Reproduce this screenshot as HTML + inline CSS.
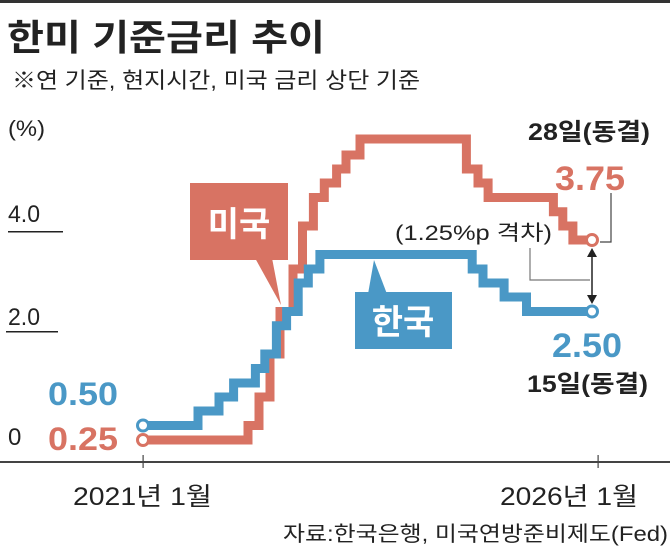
<!DOCTYPE html>
<html><head><meta charset="utf-8"><style>
html,body{margin:0;padding:0;background:#fff;}
svg{display:block;font-family:"Liberation Sans","Noto Sans CJK KR",sans-serif;}
</style></head><body>
<svg width="670" height="549" viewBox="0 0 670 549">
<rect x="0" y="0" width="670" height="3" fill="#333"/>
<text x="7" y="50" font-size="36" font-weight="bold" fill="#222" textLength="318" lengthAdjust="spacingAndGlyphs">한미 기준금리 추이</text>
<text x="12" y="88" font-size="22" fill="#222" textLength="408" lengthAdjust="spacingAndGlyphs">※연 기준, 현지시간, 미국 금리 상단 기준</text>
<text x="8" y="136" font-size="22" fill="#222" textLength="37" lengthAdjust="spacingAndGlyphs">(%)</text>
<text x="8" y="222" font-size="24" fill="#222" textLength="32" lengthAdjust="spacingAndGlyphs">4.0</text>
<rect x="8" y="231" width="55" height="1.5" fill="#222"/>
<text x="8" y="325" font-size="24" fill="#222" textLength="32" lengthAdjust="spacingAndGlyphs">2.0</text>
<rect x="6" y="331" width="52" height="1.5" fill="#222"/>
<text x="8" y="445" font-size="24" fill="#222">0</text>
<rect x="0" y="461" width="670" height="2" fill="#444"/>
<rect x="142.5" y="455" width="1.2" height="13" fill="#444"/>
<rect x="597.5" y="455" width="1.2" height="13" fill="#444"/>
<text x="73" y="505" font-size="25" fill="#222" textLength="139" lengthAdjust="spacingAndGlyphs">2021년 1월</text>
<text x="500" y="505" font-size="25" fill="#222" textLength="138" lengthAdjust="spacingAndGlyphs">2026년 1월</text>
<text x="283" y="541" font-size="21" fill="#222" textLength="385" lengthAdjust="spacingAndGlyphs">자료:한국은행, 미국연방준비제도(Fed)</text>

<polygon points="255,258 272,258 281,305" fill="#d87363"/>
<rect x="190" y="183" width="98" height="77" fill="#d87363"/>
<text x="239" y="236" font-size="34" font-weight="bold" fill="#fff" text-anchor="middle">미국</text>
<polygon points="368,294 387,294 374,260" fill="#4a98c6"/>
<rect x="355" y="292" width="97" height="57" fill="#4a98c6"/>
<text x="403" y="334" font-size="34" font-weight="bold" fill="#fff" text-anchor="middle">한국</text>

<path fill="none" stroke="#d87363" stroke-width="9" d="M143,440 H248 V425.5 H259 V397 H270 V354 H280 V311.5 H293 V269 H302.5 V226 H313.4 V197.5 H324.3 V183 H336.6 V169 H346 V155 H360 V139 H466.4 V169 H478 V183 H488.1 V197.5 H553.4 V211.8 H562.8 V226 H572.9 V240 H592"/>
<path fill="none" stroke="#4a98c6" stroke-width="9" d="M143,425.5 H198 V411 H219 V397 H233.6 V383 H255.4 V368.5 H264.8 V354 H276.4 V325.8 H286.6 V311.5 H298.2 V283 H308.3 V269 H319.9 V254.5 H472.2 V269 H483 V283 H504.1 V297 H526.5 V311.5 H592"/>
<circle cx="143" cy="440" r="5.5" fill="#fff" stroke="#d87363" stroke-width="3"/>
<circle cx="143" cy="425.5" r="5.5" fill="#fff" stroke="#4a98c6" stroke-width="3"/>
<circle cx="592" cy="240" r="5.5" fill="#fff" stroke="#d87363" stroke-width="3"/>
<circle cx="592" cy="311.5" r="5.5" fill="#fff" stroke="#4a98c6" stroke-width="3"/>

<polyline points="611,193 611,242 600,242" fill="none" stroke="#444" stroke-width="1.2"/>
<polyline points="530,248 530,280 590,280" fill="none" stroke="#777" stroke-width="1.2"/>
<line x1="592" y1="254" x2="592" y2="298" stroke="#222" stroke-width="1.5"/>
<polygon points="587,257 597,257 592,248" fill="#222"/>
<polygon points="587,295 597,295 592,304" fill="#222"/>

<text x="48" y="405" font-size="32" font-weight="bold" fill="#4a98c6" textLength="70" lengthAdjust="spacingAndGlyphs">0.50</text>
<text x="48" y="450" font-size="32" font-weight="bold" fill="#d87363" textLength="70" lengthAdjust="spacingAndGlyphs">0.25</text>
<text x="528" y="140" font-size="24" font-weight="bold" fill="#222" textLength="122" lengthAdjust="spacingAndGlyphs">28일(동결)</text>
<text x="555" y="190" font-size="34" font-weight="bold" fill="#d87363" textLength="70" lengthAdjust="spacingAndGlyphs">3.75</text>
<text x="395" y="240" font-size="21" fill="#222" textLength="157" lengthAdjust="spacingAndGlyphs">(1.25%p 격차)</text>
<text x="552" y="357" font-size="34" font-weight="bold" fill="#4a98c6" textLength="70" lengthAdjust="spacingAndGlyphs">2.50</text>
<text x="527" y="392" font-size="24" font-weight="bold" fill="#222" textLength="121" lengthAdjust="spacingAndGlyphs">15일(동결)</text>
</svg>
</body></html>
